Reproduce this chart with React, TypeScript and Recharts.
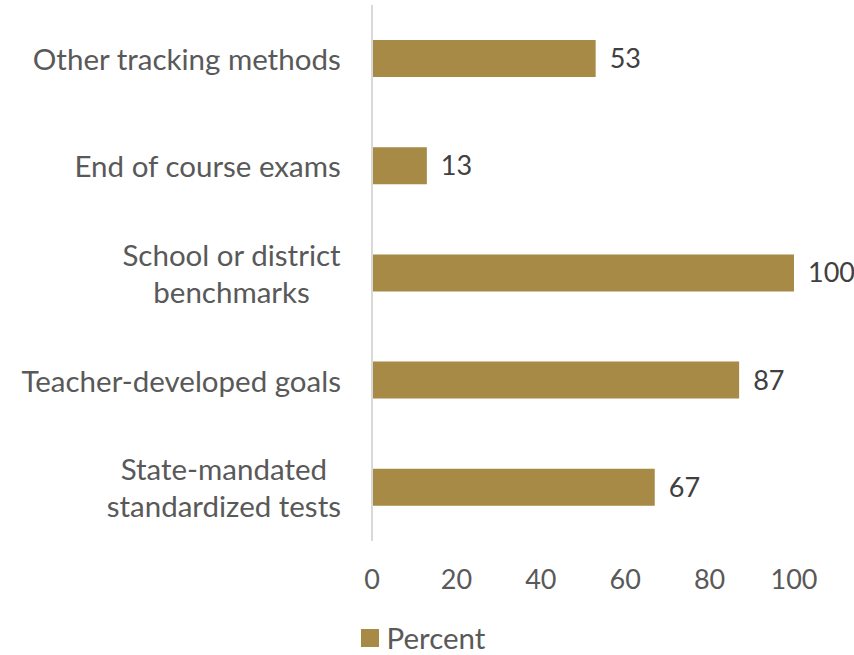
import { Bar, BarChart, LabelList, Legend, XAxis, YAxis } from "recharts";

const CATEGORIES = [
  "Other tracking methods",
  "End of course exams",
  "School or district benchmarks",
  "Teacher-developed goals",
  "State-mandated standardized tests"
];
const PERCENT = [53, 13, 100, 87, 67];
const X_TICKS = [0, 20, 40, 60, 80, 100];

// how the long labels wrap in the original
const LABEL_LINES: Record<string, string[]> = {
  "School or district benchmarks": ["School or district", "benchmarks"],
  "State-mandated standardized tests": ["State-mandated", "standardized tests"]
};

const BAR_COLOR = "#A68A46";
const TEXT_COLOR = "#595959";
const FONT = "Lato, 'Open Sans', sans-serif";
const FONT_SIZE = 27;
const CAT_FONT_SIZE = 29.5;

const data = CATEGORIES.map((label, i) => ({ label, value: PERCENT[i] }));

let ctx: CanvasRenderingContext2D | null = null;
function measure(text: string) {
  if (!ctx) ctx = document.createElement("canvas").getContext("2d");
  if (!ctx) return text.length * CAT_FONT_SIZE * 0.5;
  ctx.font = `${CAT_FONT_SIZE}px Lato`;
  return ctx.measureText(text).width;
}

function CategoryTick({ x, y, payload }: any) {
  const lines = LABEL_LINES[payload.value] || [payload.value];
  const widths = lines.map(measure);
  const maxW = Math.max(...widths);
  const right = x - 23;
  const lineHeight = 37;
  const startY = y - ((lines.length - 1) * lineHeight) / 2;
  return (
    <g>
      {lines.map((line, i) => (
        <text
          dominantBaseline="central"
          fill={TEXT_COLOR}
          fontFamily={FONT}
          fontSize={CAT_FONT_SIZE}
          key={line}
          textAnchor="middle"
          x={right - maxW / 2}
          y={startY + i * lineHeight}
        >
          {line}
        </text>
      ))}
    </g>
  );
}

function LegendContent() {
  return (
    <div
      style={{
        display: "flex",
        alignItems: "center",
        justifyContent: "center",
        gap: 8,
        paddingLeft: 52,
        paddingTop: 2,
        fontFamily: FONT,
        fontSize: CAT_FONT_SIZE,
        color: TEXT_COLOR,
        lineHeight: "30px"
      }}
    >
      <span style={{ width: 18, height: 18, background: BAR_COLOR, display: "inline-block" }} />
      <span>Percent</span>
    </div>
  );
}

export default function App() {
  return (
    <div style={{ position: "absolute", left: 0, top: 0, background: "#fff", overflow: "hidden", width: 854, height: 655 }}>
      <BarChart
        data={data}
        height={655}
        layout="vertical"
        margin={{ top: 5, right: 60, bottom: 0, left: 0 }}
        width={854}
      >
        <XAxis
          axisLine={false}
          domain={[0, 100]}
          height={80}
          tick={{ fill: TEXT_COLOR, fontSize: FONT_SIZE, fontFamily: FONT }}
          tickLine={false}
          tickMargin={23}
          ticks={X_TICKS}
          type="number"
        />
        <YAxis
          axisLine={{ stroke: "#d9d9d9", strokeWidth: 2 }}
          dataKey="label"
          tick={<CategoryTick />}
          tickLine={false}
          type="category"
          width={372}
        />
        <Legend content={<LegendContent />} height={34} verticalAlign="bottom" />
        <Bar barSize={37} dataKey="value" fill={BAR_COLOR} isAnimationActive={false}>
          <LabelList
            dataKey="value"
            fill="#404040"
            fontFamily={FONT}
            fontSize={FONT_SIZE}
            offset={14}
            position="right"
          />
        </Bar>
      </BarChart>
    </div>
  );
}
